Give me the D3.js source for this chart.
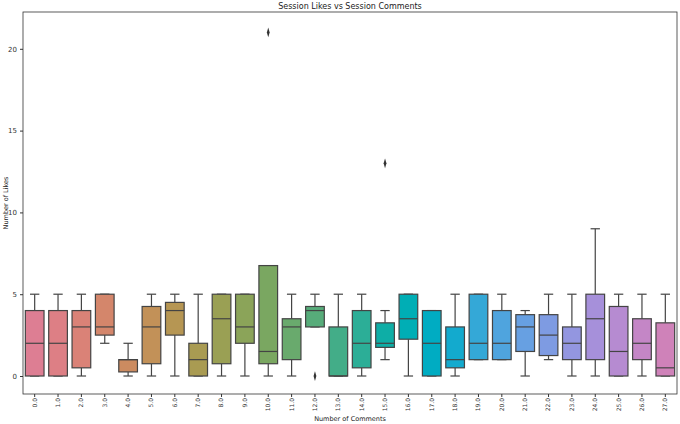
<!DOCTYPE html>
<html><head><meta charset="utf-8">
<script src="https://cdn.jsdelivr.net/npm/d3@7"></script>
<style>body{margin:0;background:#fff}text{font-family:"DejaVu Sans",sans-serif}</style>
</head><body><div class="chart"></div>
<script>
const categories = d3.range(28).map(i => i.toFixed(1))
// [whisker low, q1, median, q3, whisker high]
const stats = [
  [0,0,2,4,5],[0,0,2,4,5],[0,0.5,3,4,5],[2,2.5,3,5,5],[0,0.25,1,1,2],
  [0,0.75,3,4.25,5],[0,2.5,4,4.5,5],[0,0,1,2,5],[0,0.75,3.5,5,5],[0,2,3,5,5],
  [0,0.75,1.5,6.75,6.75],[0,1,3,3.5,5],[3,3,4,4.25,5],[0,0,0,3,5],[0,0.5,2,4,5],
  [1,1.75,2,3.25,4],[0,2.25,3.5,5,5],[0,0,2,4,4],[0,0.5,1,3,5],[1,1,2,5,5],
  [1,1,2,4,5],[0,1.5,3,3.75,4],[1,1.25,2.5,3.75,5],[0,1,2,3,5],[0,1,3.5,5,9],
  [0,0,1.5,4.25,5],[0,1,2,3.5,5],[0,0,0.5,3.25,5]
]
const outliers = [[10,21],[12,0],[15,13]]
const yTicks = [0,5,10,15,20]

const width = 680, height = 424
const m = {left:23, right:3, top:12, bottom:30}
const svg = d3.select(".chart").append("svg")
  .attr("width", width).attr("height", height)

const x = d3.scaleBand().domain(categories).range([m.left, width-m.right]).paddingInner(0.2).paddingOuter(0.1)
const y = d3.scaleLinear().domain([-1.1, 22.25]).range([height-m.bottom, m.top])

const color = (i) => d3.hcl(8 + i*340/28, 40, 64).formatHex()
const line = "#444"

const g = svg.append("g")
categories.forEach((c, i) => {
  const [lo, q1, med, q3, hi] = stats[i]
  const x0 = x(c), bw = x.bandwidth(), cx = x0 + bw/2
  g.append("line").attr("x1", cx).attr("x2", cx).attr("y1", y(lo)).attr("y2", y(q1)).attr("stroke", line).attr("stroke-width", 1.2)
  g.append("line").attr("x1", cx).attr("x2", cx).attr("y1", y(q3)).attr("y2", y(hi)).attr("stroke", line).attr("stroke-width", 1.2)
  ;[lo, hi].forEach(v => g.append("line").attr("x1", cx-bw/4).attr("x2", cx+bw/4).attr("y1", y(v)).attr("y2", y(v)).attr("stroke", line).attr("stroke-width", 1.2))
  g.append("rect").attr("x", x0).attr("width", bw).attr("y", y(q3)).attr("height", Math.max(0.5, y(q1)-y(q3)))
    .attr("fill", color(i)).attr("stroke", line).attr("stroke-width", 1.2)
  g.append("line").attr("x1", x0).attr("x2", x0+bw).attr("y1", y(med)).attr("y2", y(med)).attr("stroke", line).attr("stroke-width", 1.2)
})
outliers.forEach(([i, v]) => {
  const cx = x(categories[i]) + x.bandwidth()/2
  g.append("path").attr("d", d3.symbol(d3.symbolDiamond, 14)()).attr("transform", `translate(${cx},${y(v)}) scale(0.7,1.4)`).attr("fill", "#333")
})

svg.append("rect").attr("x", m.left).attr("y", m.top).attr("width", width-m.left-m.right).attr("height", height-m.top-m.bottom)
  .attr("fill", "none").attr("stroke", "#333").attr("stroke-width", 0.8)

const ya = svg.append("g").attr("transform", `translate(${m.left},0)`)
  .call(d3.axisLeft(y).tickValues(yTicks).tickSize(3).tickFormat(d3.format("d")))
ya.select(".domain").remove()
ya.selectAll("text").attr("font-size", 7).attr("fill", "#333")
ya.selectAll("line").attr("stroke", "#333")

const xa = svg.append("g").attr("transform", `translate(0,${height-m.bottom})`)
  .call(d3.axisBottom(x).tickSize(3))
xa.select(".domain").remove()
xa.selectAll("line").attr("stroke", "#333")
xa.selectAll("text").attr("font-size", 6).attr("fill", "#333")
  .attr("transform", "rotate(-90)").attr("text-anchor", "end").attr("x", -4).attr("y", 0).attr("dy", "0.32em")

svg.append("text").attr("x", (m.left+width-m.right)/2).attr("y", 9).attr("text-anchor", "middle").attr("font-size", 8).attr("fill", "#222").text("Session Likes vs Session Comments")
svg.append("text").attr("x", (m.left+width-m.right)/2).attr("y", 421).attr("text-anchor", "middle").attr("font-size", 6.5).attr("fill", "#222").text("Number of Comments")
svg.append("text").attr("transform", `translate(8,${(m.top+height-m.bottom)/2}) rotate(-90)`).attr("text-anchor", "middle").attr("font-size", 6.5).attr("fill", "#222").text("Number of Likes")
</script></body></html>
